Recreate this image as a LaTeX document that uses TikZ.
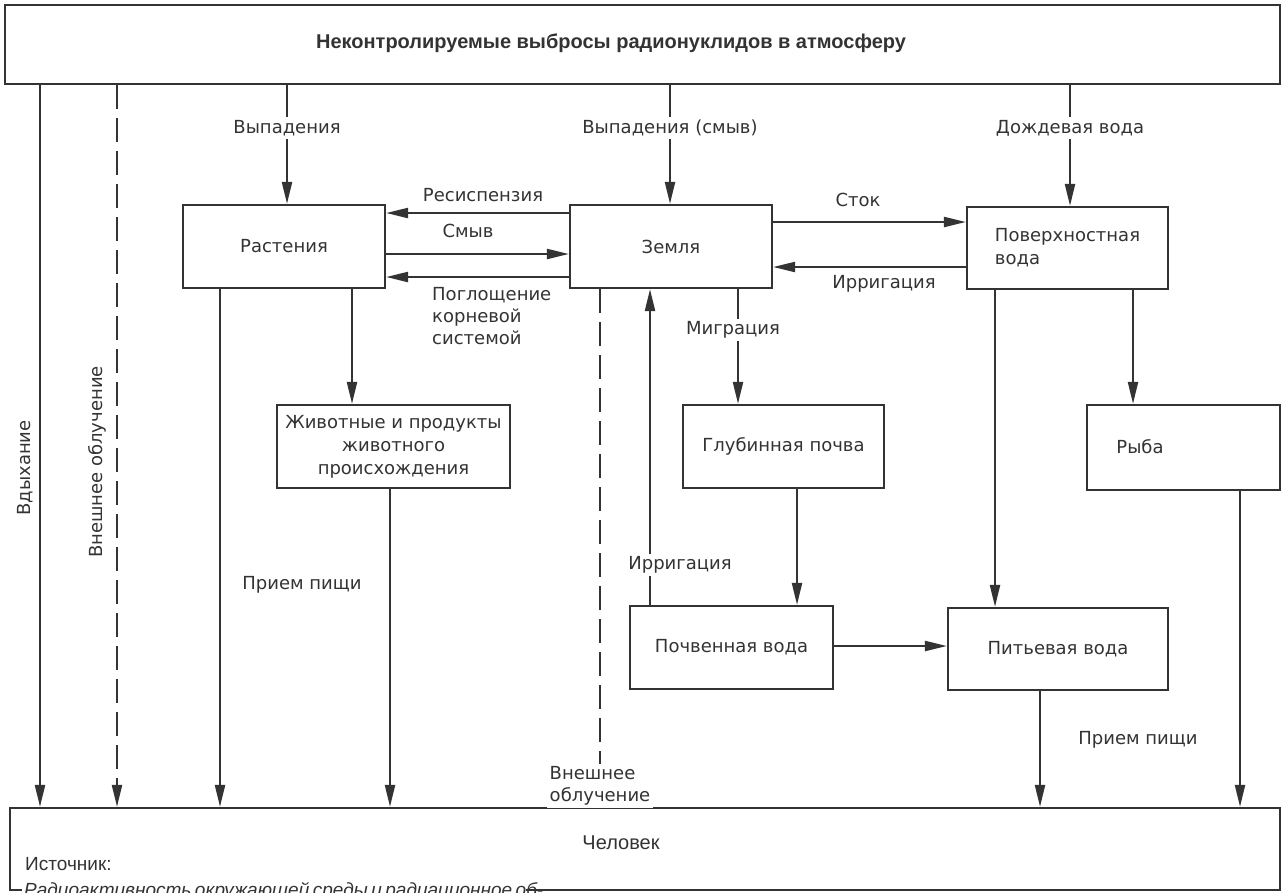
\documentclass[tikz,border=0pt]{standalone}
\usepackage{fontspec}
\setmainfont{DejaVu Sans}
\newfontfamily\arialfont{Liberation Sans}
\usetikzlibrary{arrows.meta}
\definecolor{ink}{gray}{0.2}
\begin{document}
\begin{tikzpicture}[x=1pt,y=-1pt, color=ink,
  box/.style={draw=ink, line width=2.2pt, rectangle, inner sep=0pt, font=\fontsize{18}{23}\selectfont, align=center},
  lbl/.style={font=\fontsize{18}{22}\selectfont, inner sep=1pt},
  cut/.style={lbl, fill=white, inner sep=3pt},
  arr/.style={draw=ink, line width=2.2pt, -{Triangle[length=22pt,width=10pt]}},
  darr/.style={arr, dash pattern=on 24pt off 9pt},
]
\useasboundingbox (0,0) rectangle (1284,892);

% boxes
\node[box, minimum width=1275pt, minimum height=79pt] (src) at (642.5,44.5) {};
\node[font=\arialfont\bfseries\fontsize{20}{24}\selectfont] (title) at (611,43) {Неконтролируемые выбросы радионуклидов в атмосферу};
\node[box, minimum width=1270pt, minimum height=82pt] (man) at (645,849) {};

\node[box, minimum width=202pt, minimum height=83pt] (rast) at (284,246.5) {Растения};
\node[box, minimum width=202pt, minimum height=83pt] (zem) at (671,246.5) {Земля};
\node[box, minimum width=201pt, minimum height=82pt, align=left] (surf) at (1067.5,248) {Поверхностная\\вода};
\node[box, minimum width=233pt, minimum height=83pt] (anim) at (393.5,446.5) {Животные и продукты\\животного\\происхождения};
\node[box, minimum width=201pt, minimum height=83pt] (deep) at (783.5,446.5) {Глубинная почва};
\node[box, minimum width=193pt, minimum height=85pt] (fish) at (1183.5,447.5) {};
\node[lbl] (fishtxt) at (1140,447) {Рыба};
\node[box, minimum width=203pt, minimum height=83pt] (soilw) at (731.5,647.5) {Почвенная вода};
\node[box, minimum width=220pt, minimum height=82pt] (drink) at (1058,649) {Питьевая вода};

% vertical connectors from source
\draw[arr] (src.south -| 40,0) -- (man.north -| 40,0);
\draw[darr] (src.south -| 117,0) -- (man.north -| 117,0);
\draw[arr] (src.south -| 287,0) -- (rast.north -| 287,0);
\draw[arr] (src.south -| 670,0) -- (zem.north -| 670,0);
\draw[arr] (src.south -| 1070,0) -- (surf.north -| 1070,0);

% plants <-> soil
\draw[arr] (zem.west |- 0,213) -- (rast.east |- 0,213);
\draw[arr] (rast.east |- 0,254) -- (zem.west |- 0,254);
\draw[arr] (zem.west |- 0,277) -- (rast.east |- 0,277);
% soil <-> surface water
\draw[arr] (zem.east |- 0,222) -- (surf.west |- 0,222);
\draw[arr] (surf.west |- 0,267) -- (zem.east |- 0,267);

% from plants
\draw[arr] (rast.south -| 220,0) -- (man.north -| 220,0);
\draw[arr] (rast.south -| 352,0) -- (anim.north -| 352,0);
\draw[arr] (anim.south -| 390,0) -- (man.north -| 390,0);

% from soil
\draw[darr] (zem.south -| 600,0) -- (man.north -| 600,0);
\draw[arr] (soilw.north -| 650,0) -- (zem.south -| 650,0);
\draw[arr] (zem.south -| 738,0) -- (deep.north -| 738,0);
\draw[arr] (deep.south -| 797,0) -- (soilw.north -| 797,0);
\draw[arr] (soilw.east |- 0,646) -- (drink.west |- 0,646);

% from surface water
\draw[arr] (surf.south -| 995,0) -- (drink.north -| 995,0);
\draw[arr] (surf.south -| 1133,0) -- (fish.north -| 1133,0);
\draw[arr] (drink.south -| 1040,0) -- (man.north -| 1040,0);
\draw[arr] (fish.south -| 1240,0) -- (man.north -| 1240,0);

% labels
\node[cut] (l1) at (287,128) {Выпадения};
\node[cut] (l2) at (670,128) {Выпадения (смыв)};
\node[cut] (l3) at (1070,128) {Дождевая вода};
\node[lbl] (l4) at (483,195) {Ресиспензия};
\node[lbl] (l5) at (468,231) {Смыв};
\node[lbl, align=left, anchor=north west, inner sep=0pt] (l6) at (432,287) {Поглощение\\корневой\\системой};
\node[lbl] (l7) at (858,200) {Сток};
\node[lbl] (l8) at (884,284) {Ирригация};
\node[cut] (l9) at (733,330) {Миграция};
\node[cut] (l10) at (680,565) {Ирригация};
\node[lbl] (l11) at (302,585) {Прием пищи};
\node[lbl] (l12) at (1138,740) {Прием пищи};
\node[cut, align=left] (l13) at (600,786) {Внешнее\\облучение};
\node[lbl, rotate=90] (l14) at (25,468) {Вдыхание};
\node[lbl, rotate=90] (l15) at (97,462) {Внешнее облучение};

% bottom texts
\node[font=\arialfont\fontsize{20}{24}\selectfont] (mantxt) at (621,843) {Человек};
\node[font=\arialfont\fontsize{19}{23}\selectfont, anchor=base west, inner sep=0pt] (srcnote) at (25,870) {Источник:};
\node[font=\arialfont\itshape\fontsize{19}{23}\selectfont, anchor=base west, fill=white, inner xsep=2pt, inner ysep=3pt] (ref) at (22,896) {\makebox[500pt][s]{Радиоактивность окружающей среды и радиационное об-}};
\end{tikzpicture}
\end{document}
